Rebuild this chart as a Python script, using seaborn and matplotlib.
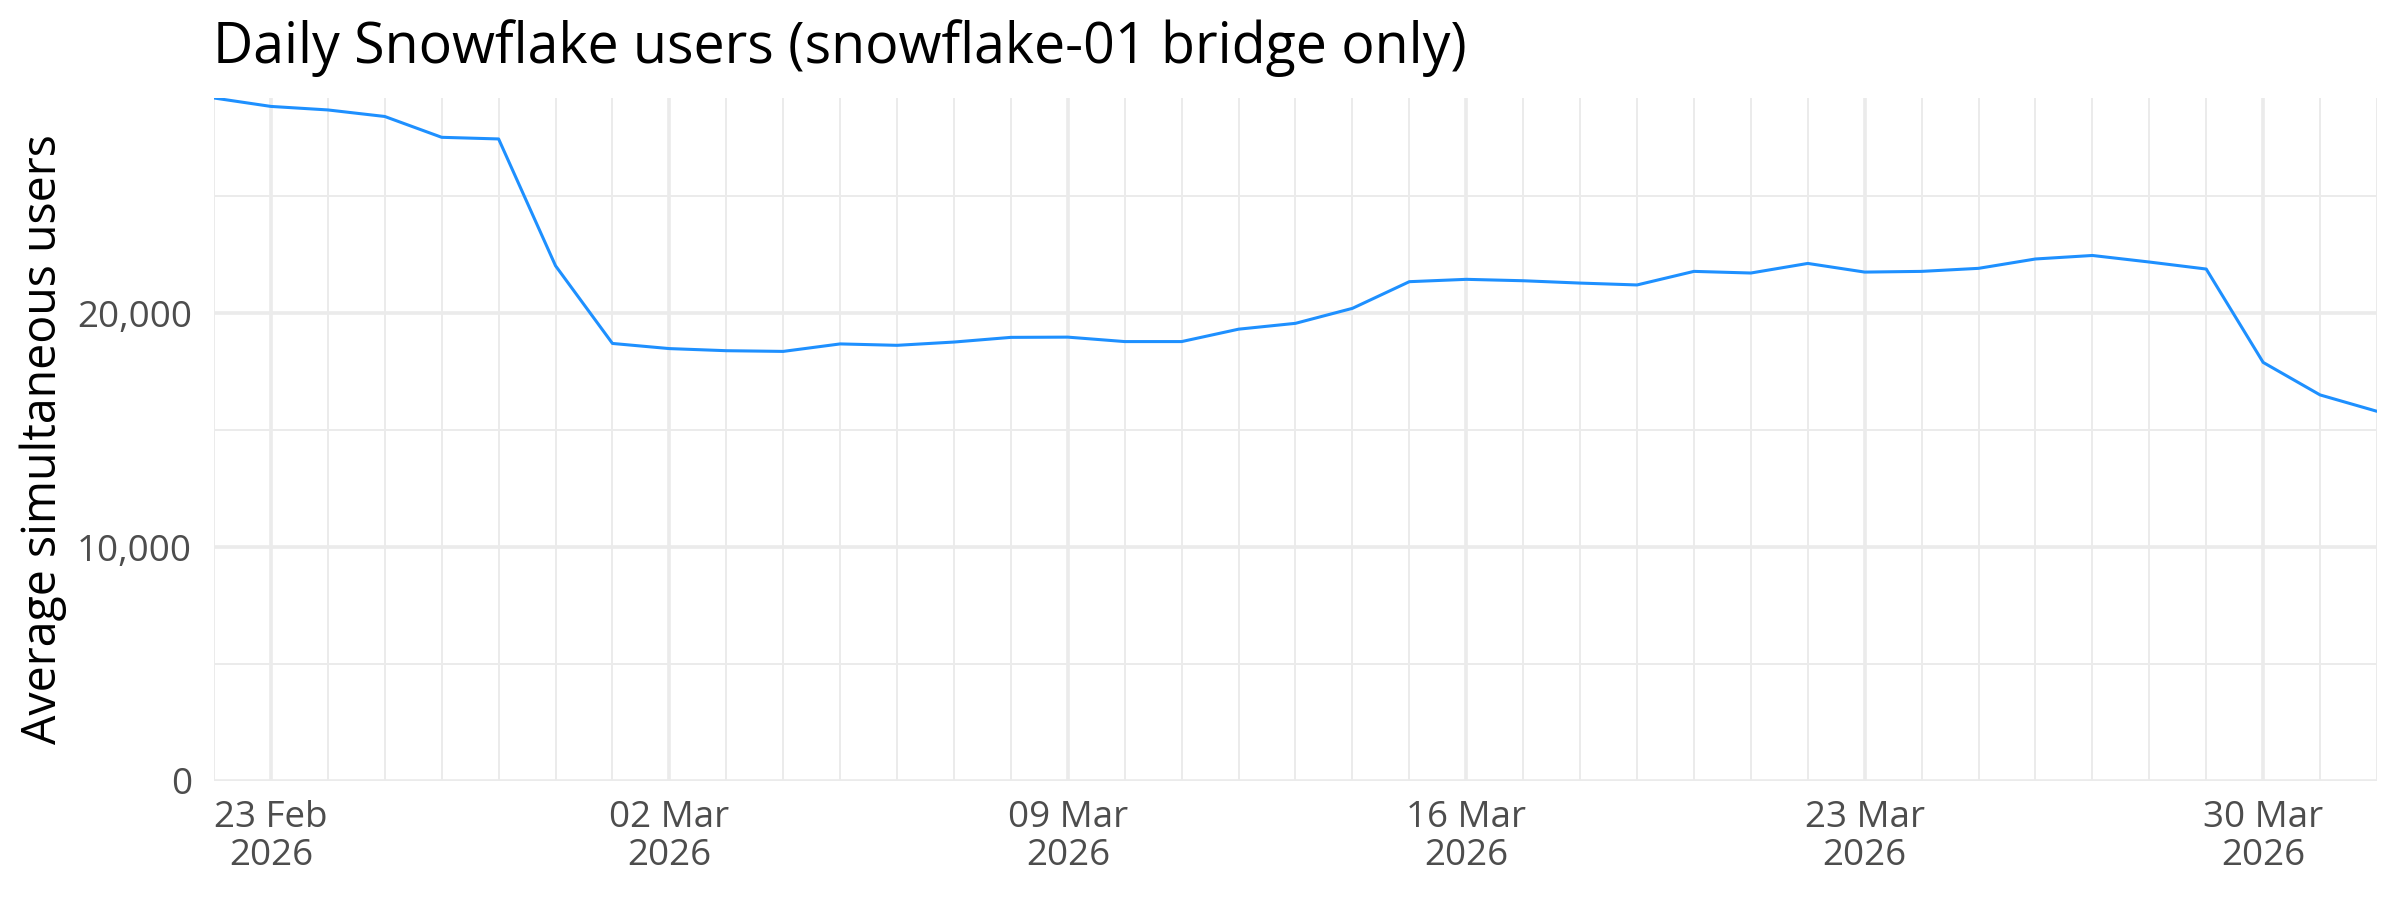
import pandas as pd
import numpy as np
import matplotlib
matplotlib.use("Agg")
import matplotlib.pyplot as plt
import matplotlib.dates as mdates
from matplotlib.ticker import FuncFormatter, MultipleLocator
import seaborn as sns

# Data
dates = pd.date_range("2026-02-22", "2026-04-01", freq="D")
users = [29190, 28830, 28680, 28400, 27510, 27440, 22020,
         18700, 18480, 18390, 18360, 18680, 18620, 18760,
         18960, 18970, 18780, 18780, 19310, 19560, 20200,
         21340, 21440, 21380, 21280, 21200, 21780, 21710,
         22120, 21750, 21780, 21910, 22310, 22460, 22180,
         21880, 17890, 16500, 15800]
title = "Daily Snowflake users (snowflake-01 bridge only)"
y_label = "Average simultaneous users"

df = pd.DataFrame({"date": dates, "users": users})

sns.set_theme(style="white")
plt.rcParams["font.family"] = ["Open Sans", "DejaVu Sans"]

fig = plt.figure(figsize=(24, 9), dpi=100)
ax = fig.add_axes([214 / 2400, 119 / 900, 2163 / 2400, 683 / 900])

sns.lineplot(data=df, x="date", y="users", color="#1E90FF", linewidth=2.2, ax=ax)

ax.set_xlim(dates[0], dates[-1])
ax.set_ylim(0, max(users))

# weekly major ticks on Mondays, daily minor grid
ax.xaxis.set_major_locator(mdates.WeekdayLocator(byweekday=mdates.MO))
ax.xaxis.set_minor_locator(mdates.DayLocator())
ax.xaxis.set_major_formatter(mdates.DateFormatter("%d %b\n%Y"))
ax.yaxis.set_major_locator(MultipleLocator(10000))
ax.yaxis.set_minor_locator(MultipleLocator(5000))
ax.yaxis.set_major_formatter(FuncFormatter(lambda v, p: f"{int(v):,}"))

ax.grid(which="major", color="#EBEBEB", linewidth=2.6)
ax.grid(which="minor", color="#EBEBEB", linewidth=1.4)
ax.set_axisbelow(True)
for s in ax.spines.values():
    s.set_visible(False)

ax.tick_params(which="both", length=0)
ax.tick_params(axis="x", labelsize=26.5, labelcolor="#4D4D4D", pad=14)
ax.tick_params(axis="y", labelsize=26.5, labelcolor="#4D4D4D", pad=16)
for lab in ax.get_xticklabels():
    lab.set_linespacing(1.05)

ax.set_xlabel("")
ax.set_ylabel(y_label, fontsize=33.5, color="black", va="center")
ax.yaxis.set_label_coords(-0.079, 0.5)

fig.text(213 / 2400, 1 - 63 / 900, title, fontsize=40, color="black",
         ha="left", va="baseline")

fig.savefig("out.png", dpi=100, facecolor="white")
